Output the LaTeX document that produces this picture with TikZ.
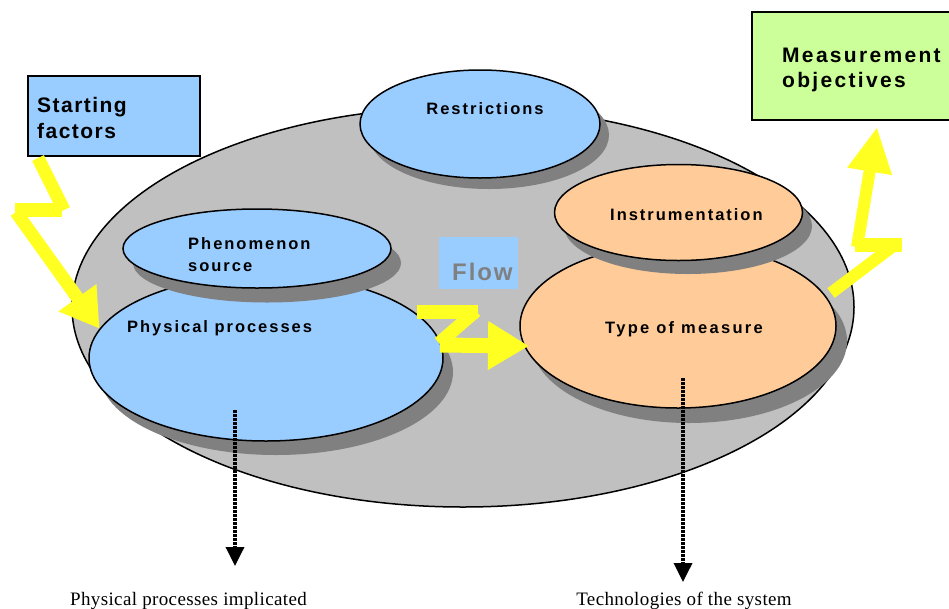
\documentclass[tikz,border=0pt]{standalone}
\usepackage{fontspec}
\usetikzlibrary{shapes.geometric,arrows.meta}
\newfontfamily\hvA[LetterSpace=12]{Liberation Sans}
\newfontfamily\hvT[LetterSpace=14]{Liberation Sans}
\newfontfamily\hvS[LetterSpace=7]{Liberation Sans}
\newfontfamily\hvM[LetterSpace=11]{Liberation Sans}
\newfontfamily\hvF[LetterSpace=8]{Liberation Sans}
\newfontfamily\tmsL[LetterSpace=2]{Liberation Serif}
\definecolor{lblue}{HTML}{99CCFF}
\definecolor{lorange}{HTML}{FFCC99}
\definecolor{lgreen}{HTML}{CCFF99}
\definecolor{mgray}{HTML}{C0C0C0}
\definecolor{dgray}{HTML}{808080}
\definecolor{boltyellow}{HTML}{FFFF22}
\begin{document}
\begin{tikzpicture}[x=1pt,y=-1pt,
  ell/.style={ellipse, draw=black, line width=1.5pt, inner sep=0pt},
  shad/.style={ellipse, fill=dgray, draw=none, inner sep=0pt},
  box/.style={rectangle, draw=black, line width=1.8pt, inner sep=0pt, anchor=north west},
  lbl/.style={inner sep=0pt, font=\hvA\bfseries\fontsize{16.5}{22}\selectfont},
  tlbl/.style={inner sep=0pt, font=\tmsL\fontsize{19}{22}\selectfont},
  bolt/.style={draw=boltyellow, line width=#1, line cap=butt},
  dotarrow/.style={draw=black, line width=3.5pt, dash pattern=on 3pt off 1pt,
    -{Triangle[length=19pt,width=18pt]}}
]
\useasboundingbox (0,0) rectangle (949,608);
\clip (0,0) rectangle (949,608);

% system ellipse
\node[ell, fill=mgray, minimum width=782pt, minimum height=400pt] (sys) at (463,307) {};

% restrictions
\node[shad, minimum width=240pt, minimum height=108pt] (restrsh) at (489,135) {};
\node[ell, fill=lblue, minimum width=240pt, minimum height=108pt] (restr) at (480,124) {};

% physical processes
\node[shad, minimum width=354pt, minimum height=166pt] (physsh) at (276,372) {};
\node[ell, fill=lblue, minimum width=354pt, minimum height=166pt] (phys) at (266,358) {};

% phenomenon source
\node[shad, minimum width=268pt, minimum height=79pt] (phensh) at (267,263) {};
\node[ell, fill=lblue, minimum width=268pt, minimum height=79pt] (phen) at (257,248.5) {};

% type of measure
\node[shad, minimum width=316pt, minimum height=164pt] (typesh) at (689,341) {};
\node[ell, fill=lorange, minimum width=316pt, minimum height=164pt] (type) at (678,326) {};

% instrumentation
\node[shad, minimum width=248pt, minimum height=96pt] (instrsh) at (688,226) {};
\node[ell, fill=lorange, minimum width=248pt, minimum height=96pt] (instr) at (678.5,212.5) {};

% flow box
\node[fill=lblue, inner sep=0pt, minimum width=79pt, minimum height=52pt] (flowbox) at (478.5,263) {};
\node[inner sep=0pt, anchor=base west, text=dgray, font=\hvF\bfseries\fontsize{24}{24}\selectfont] (flow) at (452,280) {Flow};

% boxes
\node[box, fill=lblue, minimum width=172pt, minimum height=80pt] (startbox) at (27,75) {};
\node[inner sep=0pt, anchor=north west, align=left, font=\hvS\bfseries\fontsize{21}{26}\selectfont] (startlbl) at (37,96.7) {Starting\\factors};
\node[box, fill=lgreen, minimum width=230pt, minimum height=108pt] (measbox) at (751,11) {};
\node[inner sep=0pt, anchor=north west, align=left, font=\hvM\bfseries\fontsize{21}{25.5}\selectfont] (measlbl) at (782,47.7) {Measurement\\objectives};

% labels
\node[lbl, anchor=base] (restrlbl) at (485,114) {Restrictions};
\node[lbl, anchor=north west, align=left] (phenlbl) at (188,237) {Phenomenon\\source};
\node[lbl, anchor=base west] (physlbl) at (127,332) {Physical processes};
\node[lbl, anchor=base west] (instrlbl) at (610,220) {Instrumentation};
\node[lbl, anchor=base west, font=\hvT\bfseries\fontsize{16.5}{22}\selectfont] (typelbl) at (605,333) {Type of measure};

% yellow bolts (separate straight strokes)
\coordinate (s1) at (38,158);
\coordinate (s2) at (64,210);
\coordinate (s2b) at (62,210);
\coordinate (s3) at (15,210);
\coordinate (s3b) at (16,212);
\draw[bolt=13pt] (s1) -- (s2);
\draw[bolt=14pt] (s2b) -- (s3);
\draw[bolt=13pt, -{Triangle[length=38pt,width=44pt]}] (s3b) -- (phys.170);

\coordinate (f1) at (417,312);
\coordinate (f2) at (478,312);
\coordinate (f2b) at (476,311);
\coordinate (f3) at (439,343);
\coordinate (f3b) at (440,345);
\coordinate (ftip) at (529,346);
\draw[bolt=14pt] (f1) -- (f2);
\draw[bolt=13pt] (f2b) -- (f3);
\draw[bolt=15pt, -{Triangle[length=41pt,width=46pt]}] (f3b) -- (ftip);

\coordinate (m1) at (831,293);
\coordinate (m2) at (892,247);
\coordinate (m2b) at (902,245);
\coordinate (m3) at (855,245);
\coordinate (m3b) at (857,247);
\coordinate (mtip) at (877,127);
\draw[bolt=12pt] (m1) -- (m2);
\draw[bolt=14pt] (m2b) -- (m3);
\draw[bolt=12pt, -{Triangle[length=45pt,width=42pt]}] (m3b) -- (mtip);

% dotted arrows
\coordinate (d1) at (235,410);
\coordinate (d2) at (235,566);
\draw[dotarrow] (d1) -- (d2);
\coordinate (e1) at (683,378);
\coordinate (e2) at (683,582);
\draw[dotarrow] (e1) -- (e2);

\node[tlbl, anchor=base] (implbl) at (188.5,605) {Physical processes implicated};
\node[tlbl, anchor=base] (techlbl) at (684,605) {Technologies of the system};
\end{tikzpicture}
\end{document}
